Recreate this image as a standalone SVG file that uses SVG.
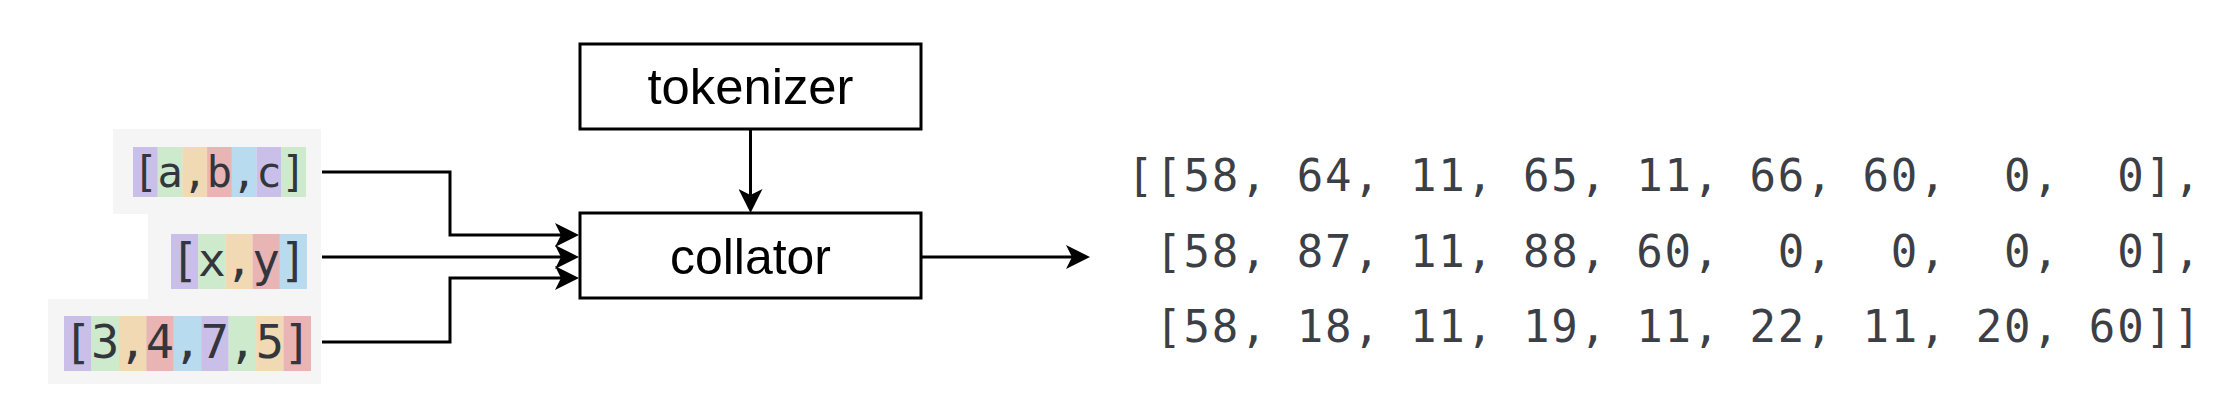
<svg xmlns="http://www.w3.org/2000/svg" width="2228" height="404" viewBox="0 0 2228 404">
<style>
.bg{fill:#f5f5f5}
.p{fill:#c9bfe8}.g{fill:#cdeacc}.o{fill:#f1d9b3}.r{fill:#e9b4b4}.b{fill:#b9dbf0}
.mono{font-family:"DejaVu Sans Mono","Liberation Mono",monospace;fill:#33363c}
.out{font-family:"DejaVu Sans Mono","Liberation Mono",monospace;fill:#3c4046;font-size:44px;letter-spacing:1.8px}
.box{fill:#fff;stroke:#000;stroke-width:3}
.lbl{font-family:"Liberation Sans",Arial,sans-serif;fill:#000;text-anchor:middle;font-size:50px}
.conn{fill:none;stroke:#000;stroke-width:3}
</style>
<defs>
<marker id="arr" viewBox="0 0 24 24" markerWidth="24" markerHeight="24" markerUnits="userSpaceOnUse" refX="14" refY="12" orient="auto">
<path d="M0,0 L24,12 L0,24 L6,12 Z" fill="#000"/>
</marker>
</defs>
<g id="input-abc">
<rect class="bg" x="113" y="129" width="208" height="85"/>
<rect class="p" x="133" y="147" width="24.8" height="50"/>
<rect class="g" x="157.7" y="147" width="24.8" height="50"/>
<rect class="o" x="182.4" y="147" width="24.8" height="50"/>
<rect class="r" x="207.1" y="147" width="24.8" height="50"/>
<rect class="b" x="231.8" y="147" width="24.8" height="50"/>
<rect class="p" x="256.6" y="147" width="24.8" height="50"/>
<rect class="g" x="281.3" y="147" width="24.7" height="50"/>
<text class="mono" font-size="42" text-anchor="middle" x="145.4 170.1 194.8 219.5 244.2 269.0 293.6" y="187">[a,b,c]</text>
</g>
<g id="input-xy">
<rect class="bg" x="148" y="214" width="173" height="85"/>
<rect class="p" x="171" y="234" width="27.3" height="55"/>
<rect class="g" x="198.2" y="234" width="27.3" height="55"/>
<rect class="o" x="225.4" y="234" width="27.3" height="55"/>
<rect class="r" x="252.6" y="234" width="27.3" height="55"/>
<rect class="b" x="279.8" y="234" width="27.2" height="55"/>
<text class="mono" font-size="46" text-anchor="middle" x="184.6 211.8 239.0 266.2 293.4" y="276">[x,y]</text>
</g>
<g id="input-3475">
<rect class="bg" x="48" y="299" width="273" height="85"/>
<rect class="p" x="64" y="316" width="27.5" height="55"/>
<rect class="g" x="91.4" y="316" width="27.5" height="55"/>
<rect class="o" x="118.9" y="316" width="27.5" height="55"/>
<rect class="r" x="146.3" y="316" width="27.5" height="55"/>
<rect class="b" x="173.8" y="316" width="27.5" height="55"/>
<rect class="p" x="201.2" y="316" width="27.5" height="55"/>
<rect class="g" x="228.6" y="316" width="27.5" height="55"/>
<rect class="o" x="256.1" y="316" width="27.5" height="55"/>
<rect class="r" x="283.5" y="316" width="27.5" height="55"/>
<text class="mono" font-size="47" text-anchor="middle" x="77.7 105.2 132.6 160.0 187.5 214.9 242.3 269.8 297.2" y="358">[3,4,7,5]</text>
</g>
<g id="tokenizer">
<rect class="box" x="580" y="44" width="341" height="85"/>
<text class="lbl" x="750.5" y="104" textLength="206" lengthAdjust="spacingAndGlyphs">tokenizer</text>
</g>
<g id="collator">
<rect class="box" x="580" y="213" width="341" height="85"/>
<text class="lbl" x="750.5" y="274" textLength="161" lengthAdjust="spacingAndGlyphs">collator</text>
</g>
<g id="output">
<text class="out" xml:space="preserve" x="1127" y="191">[[58, 64, 11, 65, 11, 66, 60,  0,  0],</text>
<text class="out" xml:space="preserve" x="1127" y="267"> [58, 87, 11, 88, 60,  0,  0,  0,  0],</text>
<text class="out" xml:space="preserve" x="1127" y="342"> [58, 18, 11, 19, 11, 22, 11, 20, 60]]</text>
</g>
<g id="connectors">
<path class="conn" d="M322,172 H450 V235 H569" marker-end="url(#arr)"/>
<path class="conn" d="M322,257 H569" marker-end="url(#arr)"/>
<path class="conn" d="M322,342 H450 V278 H569" marker-end="url(#arr)"/>
<path class="conn" d="M750.5,129 V203" marker-end="url(#arr)"/>
<path class="conn" d="M921,257 H1080" marker-end="url(#arr)"/>
</g>
</svg>
